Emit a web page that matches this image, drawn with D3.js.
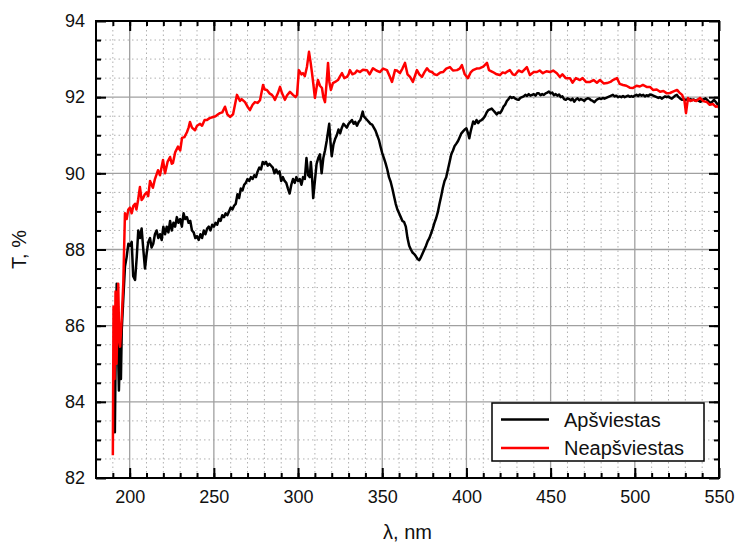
<!DOCTYPE html>
<html>
<head>
<meta charset="utf-8">
<script src="https://cdn.jsdelivr.net/npm/d3@7"></script>
<style>
  body { margin: 0; background: #fff; }
  svg { font-family: "Liberation Sans", Arial, sans-serif; }
</style>
</head>
<body>
<div id="chart"></div>
<script>
// plot box inside the 737x544 window
const margin = {top: 21, right: 18, bottom: 66, left: 96},
    W = 737, H = 544,
    width = W - margin.left - margin.right,
    height = H - margin.top - margin.bottom;

// wavelength (nm), transmittance (%)
const apsviestas = [
  [190.8,85.0],[191.2,83.2],[191.8,85.8],[192.3,87.1],[192.8,86.0],[193.6,84.3],[194.3,85.4],[194.8,84.6],[195.3,85.9],[196.2,86.7],
  [197.2,87.55],[198.2,87.8],[199.2,88.15],[200.2,88.1],[201.2,88.2],[202.1,87.3],[203.2,87.2],[204.2,87.8],[205.1,88.5],[206.1,88.3],
  [207.1,88.55],[208.1,88.0],[209.1,87.5],[210.1,87.9],[211.1,88.2],[212.1,88.3],[213,88.05],[214,88.15],[215,88.4],[216,88.5],
  [217,88.3],[218,88.4],[219,88.25],[220,88.6],[221,88.4],[222,88.6],[223,88.45],[224,88.75],[225,88.5],[226,88.7],
  [227,88.6],[228,88.85],[229,88.7],[230,88.8],[231,88.6],[232,88.95],[233,88.8],[234,88.85],[235,88.7],[236,88.75],
  [237,88.5],[238,88.45],[239,88.3],[240,88.35],[241,88.25],[242,88.4],[243,88.3],[244,88.5],[245,88.4],[246,88.55],
  [247,88.6],[248,88.5],[249,88.65],[250,88.6],[251,88.7],[252,88.65],[253,88.8],[254,88.75],[255,88.9],[256,88.85],
  [257,88.95],[258,88.9],[259,89.0],[260,89.1],[261,89.05],[262,89.15],[263,89.2],[264,89.45],[265,89.35],[266,89.6],
  [267,89.55],[268,89.7],[269,89.75],[270,89.85],[271,89.8],[272,89.9],[273,89.85],[274,89.95],[275,89.9],[276,90.05],
  [277,90.15],[278,90.1],[279,90.3],[280,90.25],[281,90.3],[282,90.2],[283,90.25],[284,90.2],[285,90.15],[286,90.0],
  [287,90.1],[288,90.0],[289,90.05],[290,89.8],[291,89.9],[292,89.8],[293,89.75],[294,89.6],[295,89.47],[296,89.7],
  [297,89.85],[298,89.75],[299,89.9],[300,89.8],[301,89.85],[302,89.7],[303,89.9],[304,89.85],[305,90.4],[306,89.95],
  [307,89.9],[307.6,90.3],[308.3,89.9],[309,89.35],[310,89.8],[311,90.25],[312,90.4],[313,90.5],[314,90.0],[315,90.4],
  [316,90.6],[317,90.85],[318.5,91.3],[319.3,90.8],[320,90.45],[321,90.75],[322,90.9],[323,91.0],[324,91.15],[325,91.05],
  [326,91.2],[327,91.3],[328,91.25],[329,91.2],[330,91.3],[331,91.35],[332,91.4],[333,91.3],[334,91.35],[335,91.25],
  [336,91.35],[337,91.4],[338.4,91.62],[339,91.5],[340,91.45],[341,91.4],[342,91.35],[343,91.3],[344,91.28],[345,91.2],
  [346,91.12],[347,91.0],[348,90.88],[349,90.7],[350,90.53],[351,90.4],[352,90.26],[353,90.1],[354,89.9],[355,89.78],
  [356,89.6],[357,89.4],[358,89.2],[359,89.05],[360,88.95],[361,88.85],[362,88.75],[363,88.72],[364,88.6],[365,88.3],
  [366,88.1],[367,88.0],[368,87.92],[369,87.88],[370,87.82],[371,87.75],[372,87.72],[373,87.8],[374,87.9],[375,88.0],
  [376,88.1],[377,88.22],[378,88.3],[379,88.42],[380,88.55],[381,88.7],[382,88.82],[383,88.98],[384,89.2],[385,89.4],
  [386,89.62],[387,89.8],[388,89.9],[389,90.1],[390,90.3],[391,90.5],[392,90.6],[393,90.72],[394,90.78],[395,90.85],
  [396,90.95],[397,91.05],[398,91.1],[399,91.15],[400,91.18],[401,91.05],[401.7,90.92],[402.5,91.1],[404,91.36],[405,91.3],
  [406,91.4],[407,91.32],[408,91.38],[409,91.4],[410,91.44],[411,91.5],[412,91.6],[413,91.66],[414,91.68],[415,91.7],
  [416,91.65],[417,91.6],[418,91.55],[419,91.6],[420,91.58],[421,91.65],[422,91.75],[423,91.8],[424,91.9],[425,91.95],
  [426,92.01],[427,91.98],[428,92.0],[429,91.96],[430,91.94],[431,91.93],[432,91.98],[433,92.0],[434,92.02],[435,92.06],
  [436,92.03],[437,92.08],[438,92.04],[439,92.06],[440,92.08],[441,92.04],[442,92.1],[443,92.1],[444,92.05],[445,92.08],
  [446,92.06],[447,92.1],[448,92.12],[449,92.15],[450,92.1],[451,92.12],[452,92.05],[453,92.08],[454,92.04],[455,92.07],
  [456,92.0],[457,92.02],[458,91.95],[459,91.93],[460,91.97],[461,91.95],[462,91.92],[463,91.96],[464,91.88],[465,91.94],
  [466,91.97],[467,91.92],[468,91.95],[469,91.93],[470,91.9],[471,91.95],[472,91.97],[473,91.96],[474,91.92],[475,91.9],
  [476,91.87],[477,91.92],[478,91.95],[479,91.97],[480,91.95],[481,91.98],[482,91.96],[483,91.98],[484,92.0],[485,92.02],
  [486,92.04],[487,92.06],[488,92.02],[489,92.04],[490,92.0],[491,92.02],[492,92.0],[493,92.03],[494,92.0],[495,92.02],
  [496,92.04],[497,92.01],[498,92.03],[499,92.01],[500,92.04],[501,92.06],[502,92.03],[503,92.07],[504,92.04],[505,92.06],
  [506,92.02],[507,92.05],[508,92.03],[509,92.07],[510,92.06],[511,92.04],[512,92.02],[513,92.0],[514,91.98],[515,92.0],
  [516,91.96],[517,91.99],[518,92.02],[519,92.0],[520,92.02],[521,91.98],[522,91.96],[523,92.0],[524,92.04],[525,92.06],
  [526,92.0],[527,91.96],[528,91.93],[529,91.95],[530,91.92],[531,91.94],[532,91.92],[533,91.95],[534,91.92],[535,91.94],
  [536,91.91],[537,91.93],[538,91.9],[539,91.88],[540,91.92],[541,91.95],[542,91.97],[543,91.93],[544,91.88],[545,91.84],
  [546,91.88],[547,91.93],[548,91.88],[549,91.82],[550,91.76]
];

const neapsviestas = [
  [190,82.6],[190.4,86.5],[191,84.6],[191.6,86.9],[192.2,85.0],[193.2,87.1],[193.8,85.6],[194.3,85.45],[195.3,86.2],[196.2,87.1],
  [197.2,88.95],[198.2,88.8],[199.2,89.05],[200.2,89.1],[201.2,88.95],[202.2,89.15],[203.2,89.2],[204,89.05],[205,89.3],[206.1,89.64],
  [207.1,89.3],[208,89.35],[209,89.45],[210.1,89.5],[211,89.4],[212.1,89.8],[213,89.7],[213.8,89.62],[215,89.85],[216.8,90.08],
  [218,89.95],[219.8,90.35],[221,90.0],[222.5,90.3],[224,90.43],[225,90.25],[225.7,90.27],[227,90.55],[228.7,90.7],[230,90.6],
  [231.1,90.93],[232.5,90.95],[234,91.08],[235,91.2],[235.8,91.35],[237,91.2],[238.8,91.13],[240,91.25],[241.8,91.3],[243,91.25],
  [244.5,91.4],[245.9,91.4],[247.5,91.45],[249.5,91.48],[251,91.5],[252.5,91.55],[253.6,91.58],[255,91.6],[256.6,91.75],[258,91.55],
  [259.6,91.48],[261.4,91.55],[263.7,92.06],[265.5,91.9],[266.5,91.95],[268.5,91.87],[270,91.75],[271.4,91.66],[273,91.8],[274.4,91.87],
  [276,91.85],[277.4,91.92],[279.2,92.32],[280.2,92.2],[281.5,92.19],[283,92.1],[284.5,92.06],[285.5,92.0],[286.3,91.93],[288,92.1],
  [289.3,92.27],[290.5,92.1],[292.2,91.93],[293.5,92.05],[295.2,92.14],[297,92.06],[298.5,92.0],[299.4,92.06],[300.5,92.71],[302,92.6],
  [302.9,92.63],[304,92.55],[305.3,92.8],[306.5,93.19],[307.5,92.9],[308.3,92.63],[309.2,92.3],[310,91.98],[311,92.25],[311.8,92.45],
  [313,92.3],[314.2,92.24],[315,92.0],[316,91.87],[317,92.4],[317.8,92.9],[318.6,92.4],[319.5,92.19],[320.7,92.37],[322,92.4],
  [323.7,92.45],[325,92.55],[326.1,92.63],[327.5,92.5],[329,92.53],[330,92.6],[330.8,92.71],[332.3,92.6],[333.8,92.63],[335,92.7],
  [336.8,92.66],[338.5,92.72],[340.9,92.71],[342.5,92.6],[344.5,92.76],[346.5,92.7],[348.6,92.66],[350.5,92.75],[352.8,92.71],[354.6,92.53],
  [355.8,92.4],[357.6,92.71],[358.7,92.7],[360.5,92.63],[362,92.75],[363.5,92.9],[365,92.6],[366.5,92.53],[368.2,92.4],[370.6,92.71],
  [372,92.6],[373.6,92.53],[375,92.65],[376.6,92.76],[378,92.68],[379.5,92.66],[381,92.6],[382.5,92.58],[384.5,92.65],[386.1,92.66],
  [388,92.75],[390.2,92.79],[392,92.7],[394.4,92.71],[396,92.75],[397.3,92.84],[399,92.6],[400.9,92.5],[402.5,92.65],[403.9,92.71],
  [406,92.75],[408,92.76],[410,92.8],[412.2,92.9],[413.4,92.71],[415.7,92.66],[418,92.6],[419.9,92.58],[421.5,92.65],[422.9,92.63],
  [424.5,92.68],[425.8,92.71],[427.5,92.6],[428.8,92.58],[431,92.7],[433,92.66],[435.9,92.79],[437.7,92.58],[440,92.66],[441.9,92.66],
  [443.5,92.7],[445.4,92.63],[447.5,92.68],[449.6,92.66],[451.5,92.7],[453.7,92.63],[455.5,92.53],[457,92.6],[459,92.5],[461.5,92.5],
  [463,92.38],[465,92.5],[467.4,92.45],[469,92.5],[471,92.4],[473.4,92.4],[475.5,92.45],[477.5,92.38],[479.3,92.45],[481.5,92.36],
  [483.5,92.37],[485.5,92.4],[487,92.45],[489.4,92.5],[491,92.35],[493,92.32],[495,92.3],[497,92.25],[498.9,92.24],[501,92.3],
  [503,92.28],[504.8,92.32],[507,92.27],[509,92.27],[510.8,92.19],[513,92.2],[515,92.14],[517,92.16],[519,92.1],[520.9,92.11],
  [523,92.15],[525.1,92.19],[526.5,92.12],[528.1,92.06],[529.5,91.9],[530.4,91.58],[531.6,91.98],[533,91.9],[534.6,91.93],[536.5,91.9],
  [538.7,91.98],[540.5,91.9],[542.9,91.87],[544.5,91.8],[546.5,91.82],[548,91.75],[549.5,91.76],[550,91.72]
];

const seriesNames = ["Apšviestas", "Neapšviestas"];
const seriesColors = ["#000000", "#ff0000"];

const xDomain = [180, 550];
const yDomain = [82, 94];
const xMajor = [200, 250, 300, 350, 400, 450, 500, 550];
const yMajor = [82, 84, 86, 88, 90, 92, 94];
const xMinor = d3.range(190, 550, 10);
const yMinor = d3.range(82.5, 94, 0.5);

const svg = d3.select("#chart")
  .append("svg")
  .attr("width", W)
  .attr("height", H)
  .append("g")
  .attr("transform", `translate(${margin.left}, ${margin.top})`);

const x = d3.scaleLinear().domain(xDomain).range([0, width]);
const y = d3.scaleLinear().domain(yDomain).range([height, 0]);

// grid: dotted minor, solid grey major
const grid = svg.append("g");
grid.selectAll(".vminor")
  .data(xMinor.filter(d => d % 50 !== 0))
  .join("line")
  .attr("x1", d => x(d)).attr("x2", d => x(d))
  .attr("y1", 0).attr("y2", height)
  .attr("stroke", "#b0b0b0").attr("stroke-width", 1)
  .attr("stroke-dasharray", "1.5,3");
grid.selectAll(".hminor")
  .data(yMinor.filter(d => d % 2 !== 0))
  .join("line")
  .attr("x1", 0).attr("x2", width)
  .attr("y1", d => y(d)).attr("y2", d => y(d))
  .attr("stroke", "#b0b0b0").attr("stroke-width", 1)
  .attr("stroke-dasharray", "1.5,3");
grid.selectAll(".vmajor")
  .data(xMajor.filter(d => d > xDomain[0] && d < xDomain[1]))
  .join("line")
  .attr("x1", d => x(d)).attr("x2", d => x(d))
  .attr("y1", 0).attr("y2", height)
  .attr("stroke", "#a0a0a0").attr("stroke-width", 1.3);
grid.selectAll(".hmajor")
  .data(yMajor.filter(d => d > yDomain[0] && d < yDomain[1]))
  .join("line")
  .attr("x1", 0).attr("x2", width)
  .attr("y1", d => y(d)).attr("y2", d => y(d))
  .attr("stroke", "#a0a0a0").attr("stroke-width", 1.3);

// curves
const line = d3.line()
  .x(d => x(d[0]))
  .y(d => y(d[1]));

svg.append("path")
  .datum(apsviestas)
  .attr("fill", "none")
  .attr("stroke", seriesColors[0])
  .attr("stroke-width", 2.5)
  .attr("stroke-linejoin", "round")
  .attr("d", line);

svg.append("path")
  .datum(neapsviestas)
  .attr("fill", "none")
  .attr("stroke", seriesColors[1])
  .attr("stroke-width", 2.5)
  .attr("stroke-linejoin", "round")
  .attr("d", line);

// axes, ticks pointing inward on all four sides
function styleAxis(g) {
  g.select(".domain").remove();
  g.selectAll(".tick line").attr("stroke", "#000").attr("stroke-width", 2);
  g.selectAll("text").attr("fill", "#111").style("font-size", "18px");
}

svg.append("g").attr("transform", `translate(0, ${height})`)
  .call(d3.axisBottom(x).tickValues(xMinor).tickSize(-5).tickFormat(""))
  .call(styleAxis);
svg.append("g").attr("transform", `translate(0, ${height})`)
  .call(d3.axisBottom(x).tickValues(xMajor).tickSize(-10).tickPadding(12).tickFormat(d3.format("d")))
  .call(styleAxis);
svg.append("g")
  .call(d3.axisTop(x).tickValues(xMinor).tickSize(-5).tickFormat(""))
  .call(styleAxis);
svg.append("g")
  .call(d3.axisTop(x).tickValues(xMajor).tickSize(-10).tickFormat(""))
  .call(styleAxis);

svg.append("g")
  .call(d3.axisLeft(y).tickValues(yMinor).tickSize(-5).tickFormat(""))
  .call(styleAxis);
svg.append("g")
  .call(d3.axisLeft(y).tickValues(yMajor).tickSize(-10).tickPadding(11).tickFormat(d3.format("d")))
  .call(styleAxis);
svg.append("g").attr("transform", `translate(${width}, 0)`)
  .call(d3.axisRight(y).tickValues(yMinor).tickSize(-5).tickFormat(""))
  .call(styleAxis);
svg.append("g").attr("transform", `translate(${width}, 0)`)
  .call(d3.axisRight(y).tickValues(yMajor).tickSize(-10).tickFormat(""))
  .call(styleAxis);

// frame
svg.append("rect")
  .attr("width", width).attr("height", height)
  .attr("fill", "none").attr("stroke", "#000").attr("stroke-width", 2);

// axis titles
svg.append("text")
  .attr("x", width / 2).attr("y", height + 61)
  .attr("text-anchor", "middle")
  .style("font-size", "20px").attr("fill", "#111")
  .text("λ, nm");

svg.append("text")
  .attr("transform", `translate(${-70}, ${height / 2}) rotate(-90)`)
  .attr("text-anchor", "middle")
  .style("font-size", "20px").attr("fill", "#111")
  .text("T, %");

// legend
const legend = svg.append("g").attr("transform", `translate(${396}, ${382})`);
legend.append("rect")
  .attr("width", 212).attr("height", 58)
  .attr("fill", "#fff").attr("stroke", "#000").attr("stroke-width", 1.5);
seriesNames.forEach((name, i) => {
  const row = legend.append("g").attr("transform", `translate(0, ${16.5 + i * 28.5})`);
  row.append("line")
    .attr("x1", 9).attr("x2", 57)
    .attr("stroke", seriesColors[i]).attr("stroke-width", 2.5);
  row.append("text")
    .attr("x", 72).attr("y", 7)
    .style("font-size", "20px").attr("fill", "#111")
    .text(name);
});
</script>
</body>
</html>
